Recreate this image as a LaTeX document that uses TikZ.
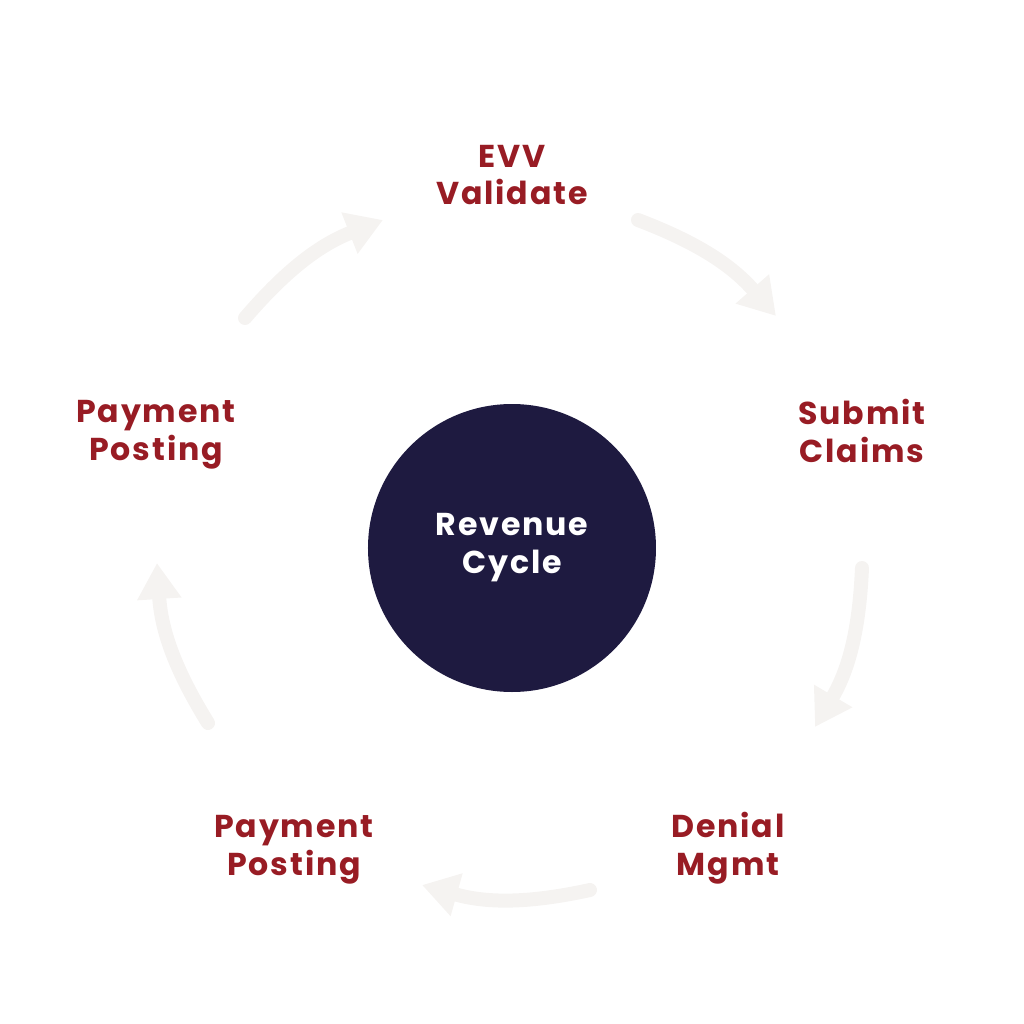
\documentclass[tikz,border=0pt]{standalone}
\usepackage{fontspec}
\setmainfont{Poppins}[LetterSpace=6]
\usetikzlibrary{arrows.meta,positioning}
\definecolor{hubc}{RGB}{30,26,64}
\definecolor{stepred}{RGB}{152,28,36}
\definecolor{flowg}{RGB}{245,243,241}

\begin{document}
\begin{tikzpicture}[
  font=\fontsize{9}{10.8}\selectfont\bfseries,
  stage/.style={text=stepred, align=center, inner sep=0pt},
  hub/.style={circle, fill=hubc, minimum size=2.88cm, inner sep=0pt,
              text=white, align=center},
  flow/.style={-{Triangle[length=3.6mm, width=4.2mm]}, line width=1.4mm,
               line cap=round, color=flowg, bend left=14},
]
\useasboundingbox (-5.12,-4.76) rectangle (5.12,5.48);

% ---------- hub ----------
\node[hub] (rc) at (0,0) {Revenue\\Cycle};

% ---------- the five stages ----------
\node[stage] (evv) at (0,3.73)      {EVV\\Validate};
\node[stage] (sub) at (3.50,1.17)   {Submit\\Claims};
\node[stage] (den) at (2.16,-3.00)  {Denial\\Mgmt};
\node[stage] (pp1) at (-2.18,-3.02) {Payment\\Posting};
\node[stage] (pp2) at (-3.56,1.13)  {Payment\\Posting};

% ---------- arrow ends on the outer ring ----------
\coordinate (a1) at (-2.67,2.30);  \coordinate (b1) at (-1.29,3.28);
\coordinate (a2) at (1.26,3.28);   \coordinate (b2) at (2.64,2.32);
\coordinate (a3) at (3.50,-0.20);  \coordinate (b3) at (3.03,-1.79);
\coordinate (a4) at (0.78,-3.42);  \coordinate (b4) at (-0.90,-3.37);
\coordinate (a5) at (-3.04,-1.75); \coordinate (b5) at (-3.55,-0.15);

\draw[flow] (a1) to (b1);
\draw[flow] (a2) to (b2);
\draw[flow] (a3) to (b3);
\draw[flow] (a4) to (b4);
\draw[flow] (a5) to (b5);

\end{tikzpicture}
\end{document}
